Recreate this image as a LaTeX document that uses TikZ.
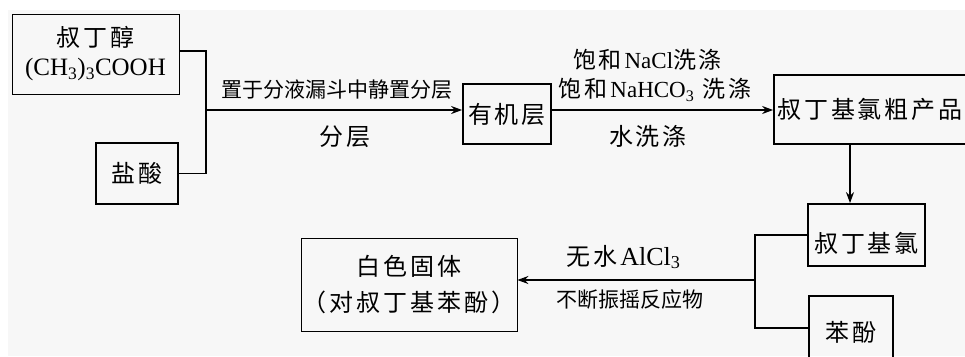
\documentclass[tikz,border=0pt]{standalone}
\usepackage{fontspec}
\setmainfont{Liberation Serif}
\newfontfamily\cjk[LetterSpace=12]{Noto Sans CJK SC}
\newfontfamily\cjkn{Noto Sans CJK SC}
\usetikzlibrary{arrows.meta}
\definecolor{bgcol}{RGB}{247,247,247}

\begin{document}
\begin{tikzpicture}[x=1pt,y=-1pt,
    >={Stealth[length=11pt,width=8pt]},
    thinbox/.style={draw, line width=0.8pt, inner sep=0pt, align=center},
    thickbox/.style={draw, line width=1.8pt, inner sep=0pt, align=center},
    boxtext/.style={font=\cjk\fontsize{24}{30}\selectfont},
    note/.style={font=\cjkn\fontsize{21}{24}\selectfont},
    flow/.style={line width=1.6pt}]

    % Page and grey background
    \clip (0,0) rectangle (965,356);
    \fill[bgcol] (8,10) rectangle (965,356);

    % Starting materials
    \node[thinbox, boxtext, minimum width=167pt, minimum height=80pt] (alcohol) at (95.5,54)
        {叔丁醇\\[-1pt]{\rmfamily\fontsize{25}{30}\selectfont (CH\textsubscript{3})\textsubscript{3}COOH}};
    \node[thickbox, boxtext, minimum width=82pt, minimum height=61pt] (acid) at (137,173.5) {盐酸};

    % Separation in the funnel
    \coordinate (mix) at (206,110);
    \draw[flow] ([yshift=3pt]alcohol.east) -| (mix) |- (acid.east);
    \node[thickbox, boxtext, minimum width=88pt, minimum height=60pt] (organic) at (507,114) {有机层};
    \draw[flow,->] (mix) -- (mix -| organic.west);
    \node[note] (sepA) at (336.5,90) {置于分液漏斗中静置分层};
    \node[boxtext] (sepB) at (345,137) {分层};

    % Washing
    \node[thickbox, boxtext, minimum width=192pt, minimum height=69pt] (crude) at (870,109.5) {叔丁基氯粗产品};
    \draw[flow,->] (organic.east |- mix) -- (crude.west |- mix);
    \node[font=\cjk\fontsize{23}{26}\selectfont] (washA) at (647.5,60) {饱和\textrm{NaCl}洗涤};
    \node[font=\cjk\fontsize{23}{26}\selectfont] (washB) at (655,90) {饱和\textrm{NaHCO\textsubscript{3}} 洗涤};
    \node[boxtext] (washC) at (648,136) {水洗涤};

    % Chloride and phenol
    \node[thickbox, boxtext, text height=37pt, text depth=3pt, minimum width=117pt, minimum height=62pt] (chloride) at (866.5,235) {叔丁基氯};
    \draw[flow,->] ([xshift=-20pt]crude.south) -- ([xshift=-20pt]crude.south |- chloride.north);
    \node[thickbox, boxtext, text height=29pt, text depth=3pt, minimum width=84pt, minimum height=64pt] (phenol) at (851,328) {苯酚};
    \coordinate (mix2) at (755,280);
    \draw[flow] (chloride.west) -| (mix2) |- (phenol.west);

    % Alkylation
    \node[thinbox, font=\cjk\fontsize{24}{36}\selectfont, minimum width=216pt, minimum height=93pt] (product) at (409,284.5)
        {白色固体\\（对叔丁基苯酚）};
    \draw[flow,->] (mix2) -- (mix2 -| product.east);
    \node[boxtext] (cat) at (623.5,257) {无水\textrm{\fontsize{26}{30}\selectfont AlCl\textsubscript{3}}};
    \node[note] (shake) at (630,300) {不断振摇反应物};

\end{tikzpicture}
\end{document}
